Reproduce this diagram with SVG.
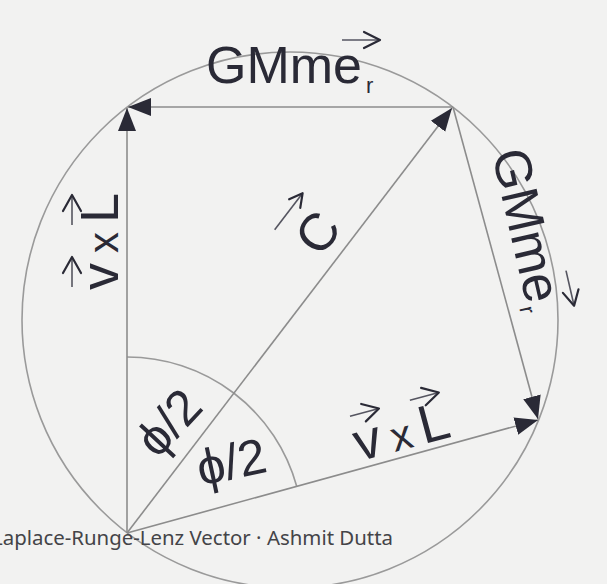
<svg xmlns="http://www.w3.org/2000/svg" width="607" height="584" viewBox="0 0 607 584">
<defs>
<style>
.ln{stroke:#8c8c8c;stroke-width:1.6;fill:none}
.circ{stroke:#9a9a9a;stroke-width:1.6;fill:none}
.lbl{font-family:"Liberation Sans",Arial,sans-serif;fill:#2a2a36}
.phi{font-family:"Liberation Sans","DejaVu Sans",sans-serif;fill:#2a2a36}
.vec{stroke:#2a2a36;stroke-width:2.2;fill:none;stroke-linecap:round;stroke-linejoin:round}
.shaft{stroke:#555560;stroke-width:1.6;fill:none}
.cap{font-family:"Noto Sans","Open Sans",sans-serif;font-size:19px;fill:#444448}
</style>
<marker id="ah" markerUnits="userSpaceOnUse" markerWidth="24" markerHeight="20" viewBox="-23 -10 24 20" refX="0" refY="0" orient="auto">
<path d="M0,0 L-23,-9 L-23,9 Z" fill="#2a2a36"/>
</marker>
</defs>
<rect width="607" height="584" fill="#f2f2f1"/>
<g id="circle">
<circle class="circ" cx="290" cy="320" r="268"/>
<path class="circ" d="M127,357 A176,176 0 0 1 296.7,486.3"/>
</g>
<g id="connectors">
<line class="ln" x1="127" y1="533" x2="127" y2="108" marker-end="url(#ah)"/>
<line class="ln" x1="453" y1="107" x2="128" y2="107" marker-end="url(#ah)"/>
<line class="ln" x1="127" y1="533" x2="452" y2="108" marker-end="url(#ah)"/>
<line class="ln" x1="453" y1="107" x2="538" y2="419" marker-end="url(#ah)"/>
<line class="ln" x1="127" y1="533" x2="538" y2="420" marker-end="url(#ah)"/>
</g>
<g id="label-top" transform="translate(206,83)">
<text class="lbl" x="0" y="0" font-size="52">GMme</text>
<text class="lbl" x="160" y="10" font-size="22">r</text>
<path class="shaft" d="M136,-43 L173,-43"/>
<path class="vec" d="M158,-51 L174,-43 L158,-35"/>
</g>
<g id="label-right" transform="translate(491.7,153.3) rotate(77)">
<text class="lbl" x="0" y="0" font-size="52">GMme</text>
<text class="lbl" x="157" y="8" font-size="22">r</text>
<path class="shaft" d="M131,-46 L166,-46"/>
<path class="vec" d="M152,-54 L167,-46 L152,-38"/>
</g>
<g id="label-left" transform="translate(118,290) rotate(-90)">
<text class="lbl" x="0" y="0" font-size="54">v</text>
<text class="lbl" x="37" y="0" font-size="42">x</text>
<text class="lbl" x="67" y="0" font-size="54">L</text>
<path class="shaft" d="M3,-46 L32,-46"/>
<path class="vec" d="M17,-55 L33,-46 L17,-37"/>
<path class="shaft" d="M65,-46 L94,-46"/>
<path class="vec" d="M79,-55 L95,-46 L79,-37"/>
</g>
<g id="label-bottom" transform="translate(359,461.5) rotate(-15)">
<text class="lbl" x="0" y="0" font-size="54">v</text>
<text class="lbl" x="37" y="0" font-size="42">x</text>
<text class="lbl" x="67" y="0" font-size="54">L</text>
<path class="shaft" d="M3,-46 L32,-46"/>
<path class="vec" d="M17,-55 L33,-46 L17,-37"/>
<path class="shaft" d="M65,-46 L94,-46"/>
<path class="vec" d="M79,-55 L95,-46 L79,-37"/>
</g>
<g id="label-c" transform="translate(320.6,258.6) rotate(-52.6)">
<text class="lbl" x="0" y="0" font-size="52">C</text>
<path class="shaft" d="M-5,-54 L40,-54"/>
<path class="vec" d="M28,-61 L41,-54 L28,-47"/>
</g>
<g id="label-phi-upper" transform="translate(168,422) rotate(-47)">
<text class="phi" x="0" y="18" font-size="50" text-anchor="middle">ϕ/2</text>
</g>
<g id="label-phi-lower" transform="translate(231,461) rotate(-12)">
<text class="phi" x="0" y="18" font-size="50" text-anchor="middle">ϕ/2</text>
</g>
<text class="cap" x="-8" y="545" textLength="401" lengthAdjust="spacingAndGlyphs">Laplace-Runge-Lenz Vector · Ashmit Dutta</text>
</svg>
